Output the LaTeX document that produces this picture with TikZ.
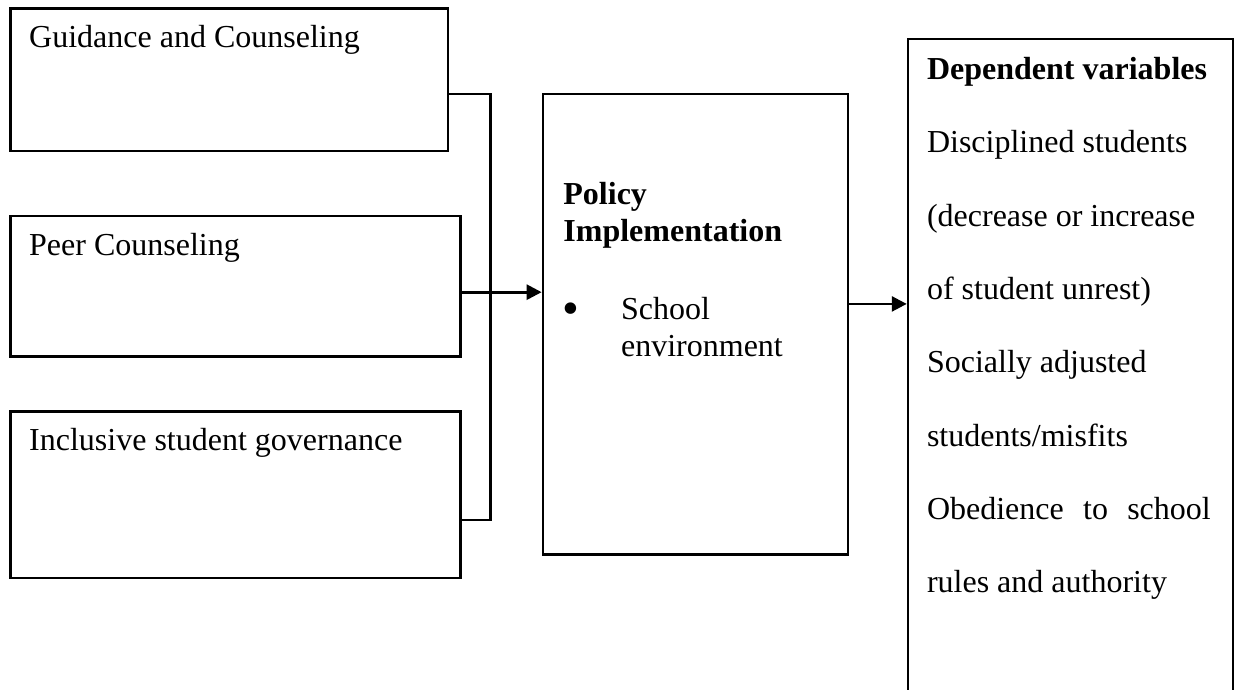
\documentclass[tikz,border=0pt]{standalone}
\usepackage{fontspec}
\setmainfont{Liberation Serif}
\usetikzlibrary{positioning,arrows.meta}

\begin{document}
\begin{tikzpicture}[
    font=\fontsize{12pt}{13.8pt}\selectfont,
    box/.style={
        draw,
        line width=1pt,
        inner sep=0pt
    },
    txt/.style={anchor=base west, inner sep=0pt, align=left},
    link/.style={line width=1pt},
    arr/.style={line width=1pt, -{Triangle[length=5.6pt,width=5.6pt]}}
]

\useasboundingbox (0,0) rectangle (16.34,-9.09);

% Guidance box
\node[box, minimum width=5.77cm, minimum height=1.88cm] (guidance) at (3.02,-1.05) {};
\node[txt] (guidancetxt) at ([xshift=0.26cm,yshift=-0.53cm]guidance.north west) {Guidance and Counseling};

% Peer box
\node[box, minimum width=5.93cm, minimum height=1.85cm] (peer) at (3.10,-3.77) {};
\node[txt] (peertxt) at ([xshift=0.26cm,yshift=-0.54cm]peer.north west) {Peer Counseling};

% Governance box
\node[box, minimum width=5.93cm, minimum height=2.19cm] (inclusive) at (3.10,-6.52) {};
\node[txt] (inclusivetxt) at ([xshift=0.26cm,yshift=-0.53cm]inclusive.north west) {Inclusive student governance};

% Policy box (base of a two-line node is its last line)
\node[box, minimum width=4.02cm, minimum height=6.07cm] (policy) at (9.165,-4.275) {};
\node[txt, font=\fontsize{12pt}{13.8pt}\selectfont\bfseries] (policytxt) at ([xshift=0.28cm,yshift=-1.96cm]policy.north west) {Policy\\Implementation};
\node[txt, font=\fontsize{18pt}{18pt}\selectfont] (bullet) at ([xshift=0.27cm,yshift=-3.06cm]policy.north west) {\textbullet};
\node[txt] (schooltxt) at ([xshift=1.04cm,yshift=-3.47cm]policy.north west) {School\\environment};

% Dependent variables box (runs off the bottom)
\node[box, minimum width=4.28cm, minimum height=9.0cm] (dependent) at (14.106,-5.014) {};
\node[txt, align=flush left, text width=3.74cm, font=\fontsize{12pt}{27.5pt}\selectfont] (dependenttxt) at ([xshift=0.26cm,yshift=-0.55cm]dependent.north west) {%
    \textbf{Dependent variables}\\
    Disciplined students\\
    (decrease or increase\\
    of student unrest)\\
    Socially adjusted\\
    students/misfits\\
    \makebox[3.74cm][s]{Obedience to school}\\
    rules and authority};

% Bus joining the input boxes
\coordinate (bustop) at (6.46,-1.24);
\coordinate (busbot) at (6.46,-6.85);
\draw[link] (guidance.east |- bustop) -- (bustop) -- (busbot) -- (inclusive.east |- busbot);

% Arrows
\draw[arr] ([yshift=-0.08cm]peer.east) -- ([yshift=-0.08cm]peer.east -| policy.west);
\draw[arr] ([yshift=0.27cm]policy.east) -- ([yshift=0.27cm]policy.east -| dependent.west);

\end{tikzpicture}
\end{document}
